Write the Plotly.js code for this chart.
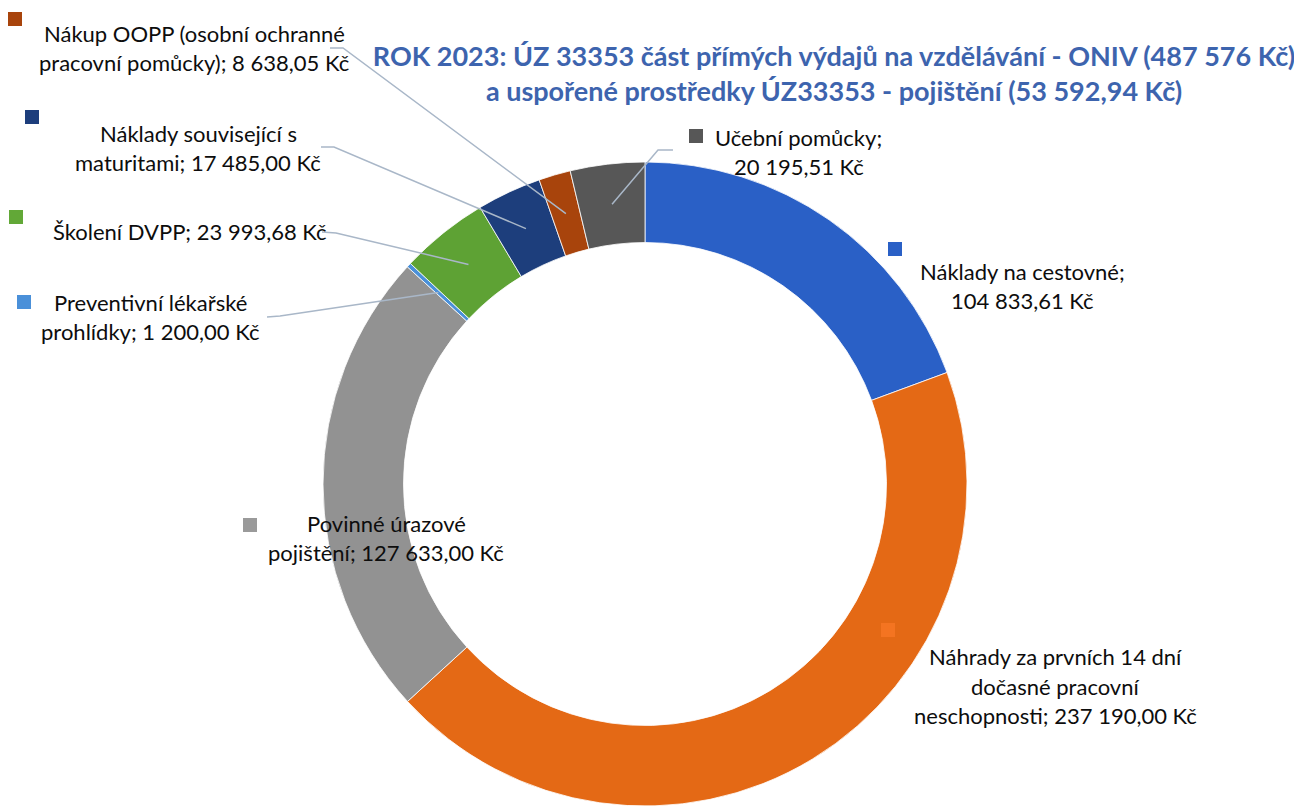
<!DOCTYPE html>
<html>
<head>
<meta charset="utf-8">
<script src="https://cdn.plot.ly/plotly-3.0.1.min.js"></script>
<style>html,body{margin:0;padding:0;background:#fff;}#chart{width:1294px;height:807px;}</style>
</head>
<body>
<div id="chart"></div>
<script>
// ---------- DATA ----------
const categories = [
  "Náklady na cestovné",
  "Náhrady za prvních 14 dní dočasné pracovní neschopnosti",
  "Povinné úrazové pojištění",
  "Preventivní lékařské prohlídky",
  "Školení DVPP",
  "Náklady související s maturitami",
  "Nákup OOPP (osobní ochranné pracovní pomůcky)",
  "Učební pomůcky"
];
const values = [104833.61, 237190.00, 127633.00, 1200.00, 23993.68, 17485.00, 8638.05, 20195.51];
const titleLines = [
  "ROK 2023: ÚZ 33353 část přímých výdajů na vzdělávání - ONIV (487 576 Kč)",
  "a uspořené prostředky ÚZ33353 - pojištění (53 592,94 Kč)"
];

// ---------- STYLE / LAYOUT ----------
const colors    = ["#2A60C6", "#E46915", "#929292", "#4A90D9", "#5EA234", "#1D3E7C", "#A8440C", "#575757"];
const keyColors = ["#2A60C6", "#F47421", "#9A9A9A", "#4A90D9", "#62A837", "#1D3E7C", "#A8440C", "#575757"];
const W = 1294, H = 807;
const CX = 645, CY = 484, R = 322, HOLE = 0.75;
const FONT = "Lato, 'Open Sans', sans-serif";
const labelPos   = [[1023,286],[1055,686],[386,538],[150,317],[190,232],[198,148],[194,48],[799,152]];
const labelBreaks = [[3],[5,7],[2],[2],[],[3],[4],[2]];
const squarePos  = [[895,249],[888,630],[250,525],[24,302],[16,217],[32,117],[15,19],[696,136]];
const leaderStart = [null, null, null,
  [[267,317],[280,316]],
  [[322,232],[336,233]],
  [[321,147],[334,147]],
  [[330,48],[343,48]],
  [[673,150],[658,150]]];
const LINE_H = 29.5;

const px = x => x / W;
const py = y => 1 - y / H;

function fmt(v) {
  const parts = v.toFixed(2).split(".");
  const int = parts[0].replace(/\B(?=(\d{3})+(?!\d))/g, " ");
  return int + "," + parts[1] + " Kč";
}

const total = values.reduce((a, b) => a + b, 0);
const annotations = [];
const shapes = [];
let cum = 0;
values.forEach((v, i) => {
  const mid = (cum + v / 2) / total * 2 * Math.PI;
  cum += v;
  const words = (categories[i] + "; " + fmt(v)).split(" ");
  const br = labelBreaks[i];
  const lines = [];
  let start = 0;
  br.concat([words.length]).forEach(b => { lines.push(words.slice(start, b).join(" ")); start = b; });
  const n = lines.length;
  lines.forEach((t, k) => {
    annotations.push({
      xref: "paper", yref: "paper",
      x: px(labelPos[i][0]), y: py(labelPos[i][1] + (k - (n - 1) / 2) * LINE_H),
      xanchor: "center", yanchor: "middle", showarrow: false,
      text: t, font: {family: FONT, size: 22, color: "#0d0d0d"}
    });
  });
  const s = 7;
  shapes.push({
    type: "rect", xref: "paper", yref: "paper", layer: "above",
    x0: px(squarePos[i][0] - s), x1: px(squarePos[i][0] + s),
    y0: py(squarePos[i][1] + s), y1: py(squarePos[i][1] - s),
    fillcolor: keyColors[i], line: {width: 0}
  });
  if (leaderStart[i]) {
    const rm = R * (1 + HOLE) / 2;
    const ex = CX + rm * Math.sin(mid), ey = CY - rm * Math.cos(mid);
    const pts = leaderStart[i].concat([[ex, ey]]);
    const path = pts.map((p, k) => (k ? "L" : "M") + px(p[0]).toFixed(5) + "," + py(p[1]).toFixed(5)).join(" ");
    shapes.push({type: "path", xref: "paper", yref: "paper", layer: "above", path: path,
      line: {color: "#A9B7C8", width: 1.5}});
  }
});

const trace = {
  type: "pie",
  labels: categories,
  values: values,
  sort: false,
  direction: "clockwise",
  rotation: 0,
  hole: HOLE,
  textinfo: "none",
  hoverinfo: "label+value",
  showlegend: false,
  marker: {colors: colors, line: {color: "#ffffff", width: 0.8}},
  domain: {x: [px(CX - R), px(CX + R)], y: [py(CY + R), py(CY - R)]}
};

const layout = {
  width: W, height: H,
  margin: {l: 0, r: 0, t: 0, b: 0},
  paper_bgcolor: "#ffffff",
  title: {
    text: titleLines.join("<br>"),
    font: {family: FONT, size: 27, color: "#3D64AE", weight: "bold"},
    x: px(834), xanchor: "center", xref: "paper",
    y: py(66), yanchor: "middle", yref: "paper"
  },
  showlegend: false,
  annotations: annotations,
  shapes: shapes
};

Plotly.newPlot("chart", [trace], layout, {displayModeBar: false, staticPlot: true});
</script>
</body>
</html>
